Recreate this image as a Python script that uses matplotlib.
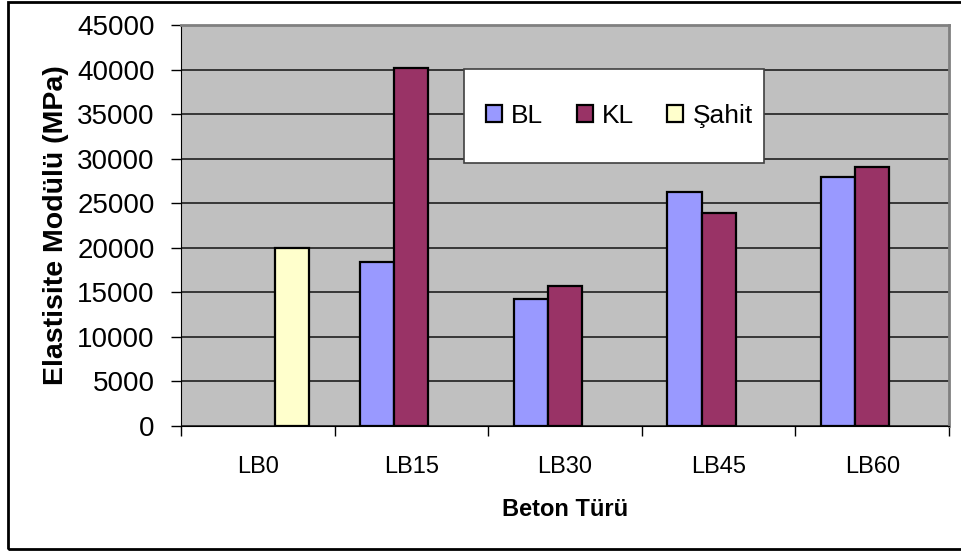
import matplotlib.pyplot as plt
import numpy as np
from matplotlib.patches import Rectangle

categories = ["LB0", "LB15", "LB30", "LB45", "LB60"]
bl_values = [0, 18400, 14200, 26300, 27900]
kl_values = [0, 40200, 15700, 23850, 29000]
sahit_values = [20000, 0, 0, 0, 0]
series_names = ["BL", "KL", "Şahit"]
y_ticks = list(range(0, 45001, 5000))

plt.rcParams["font.family"] = ["Liberation Sans", "DejaVu Sans"]

fig = plt.figure(figsize=(9.62, 5.54), dpi=100)
ax = fig.add_axes([181 / 962, 1 - 425.7 / 554, 768 / 962, 400.7 / 554])
ax.set_facecolor("#c0c0c0")

x = np.arange(len(categories))
w = 1 / 4.5
colors = ["#9999ff", "#993366", "#ffffcc"]
for k, vals in enumerate([bl_values, kl_values, sahit_values]):
    pos = x + (k - 1) * w
    keep = [i for i, v in enumerate(vals) if v > 0]
    ax.bar(pos[keep], [vals[i] for i in keep], width=w, color=colors[k],
           edgecolor="black", linewidth=1.6, zorder=3, label=series_names[k])

ax.set_xlim(-0.5, len(categories) - 0.5)
ax.set_ylim(0, 45000)
ax.set_yticks(y_ticks)
ax.set_yticklabels([str(t) for t in y_ticks], fontsize=20)
ax.yaxis.grid(True, color="#202020", linewidth=1.2, zorder=1)
ax.set_axisbelow(True)

ax.set_xticks(x)
ax.set_xticklabels(categories, fontsize=17)
ax.set_xticks(np.arange(-0.5, len(categories)), minor=True)
ax.tick_params(axis="x", which="major", length=0, pad=22)
ax.tick_params(axis="x", which="minor", length=7, width=1, color="black", direction="out")
ax.tick_params(axis="y", length=7, width=1, pad=12, direction="out")

for s in ["top", "right"]:
    ax.spines[s].set_color("#808080")
    ax.spines[s].set_linewidth(2)
ax.spines["left"].set_color("black")
ax.spines["bottom"].set_color("black")

ax.set_xlabel("Beton Türü", fontsize=17, fontweight="bold", labelpad=14)
ax.set_ylabel("Elastisite Modülü (MPa)", fontsize=20.5, fontweight="bold", labelpad=6)

# legend box (white, sits over the gridlines)
lx0, lx1 = (464 - 181) / 768, (764 - 181) / 768
ly0, ly1 = (425.7 - 163) / 400.7, (425.7 - 69) / 400.7
ax.add_patch(Rectangle((lx0, ly0), lx1 - lx0, ly1 - ly0, transform=ax.transAxes,
                       facecolor="white", edgecolor="#404040", linewidth=1.2, zorder=5))
leg = ax.legend(loc="center", bbox_to_anchor=((lx0 + lx1) / 2 + 0.007, (ly0 + ly1) / 2),
                ncol=3, frameon=False, fontsize=19, handlelength=0.6, handleheight=0.6,
                handletextpad=0.35, columnspacing=1.27)
leg.set_zorder(6)

# chart area border
fig.patches.append(Rectangle((8 / 962, 1 - 549 / 554), 1.0, (549 - 2) / 554,
                             transform=fig.transFigure, fill=False,
                             edgecolor="black", linewidth=2))

plt.savefig("out.png", dpi=100)
